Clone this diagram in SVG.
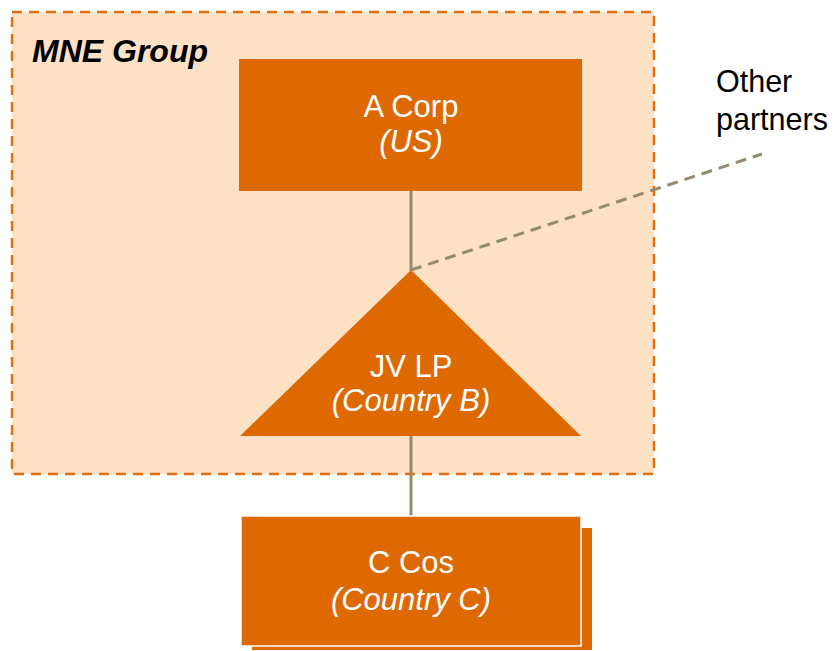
<svg xmlns="http://www.w3.org/2000/svg" width="835" height="651" viewBox="0 0 835 651">
<style>
.node{fill:#DD6900}
.lbl{font-family:"Liberation Sans",Arial,sans-serif;font-size:31px;fill:#FFFFFF;text-anchor:middle}
.it{font-style:italic}
.conn{stroke:#948B6F;stroke-width:3;fill:none}
</style>
<rect width="835" height="651" fill="#FFFFFF"/>
<g id="mne-group">
<rect x="12" y="12" width="642" height="462" fill="#FDE1C5" stroke="#E0700F" stroke-width="2.5" stroke-dasharray="10,7"/>
<text x="32" y="62" font-family="Liberation Sans,Arial,sans-serif" font-size="32" font-weight="bold" font-style="italic" fill="#000000">MNE Group</text>
</g>
<g id="connectors">
<line class="conn" x1="411" y1="191" x2="411" y2="271"/>
<line class="conn" x1="411" y1="436" x2="411" y2="516"/>
<line class="conn" x1="411" y1="270" x2="762" y2="154" stroke-dasharray="11,7"/>
</g>
<g id="a-corp">
<rect class="node" x="239" y="59" width="343" height="132"/>
<text class="lbl" x="411" y="117">A Corp</text>
<text class="lbl it" x="411" y="152">(US)</text>
</g>
<g id="jv-lp">
<polygon class="node" points="411,270 581,436 240,436"/>
<text class="lbl" x="411" y="377">JV LP</text>
<text class="lbl it" x="411" y="411">(Country B)</text>
</g>
<g id="c-cos">
<rect class="node" x="252" y="528" width="340" height="122"/>
<rect class="node" x="241" y="516" width="340" height="130" stroke="#FFFFFF" stroke-width="1.5"/>
<text class="lbl" x="411" y="573">C Cos</text>
<text class="lbl it" x="411" y="610">(Country C)</text>
</g>
<g id="other-partners">
<text x="716" y="92" font-family="Liberation Sans,Arial,sans-serif" font-size="30.5" fill="#000000">Other</text>
<text x="716" y="130" font-family="Liberation Sans,Arial,sans-serif" font-size="30.5" fill="#000000">partners</text>
</g>
</svg>
